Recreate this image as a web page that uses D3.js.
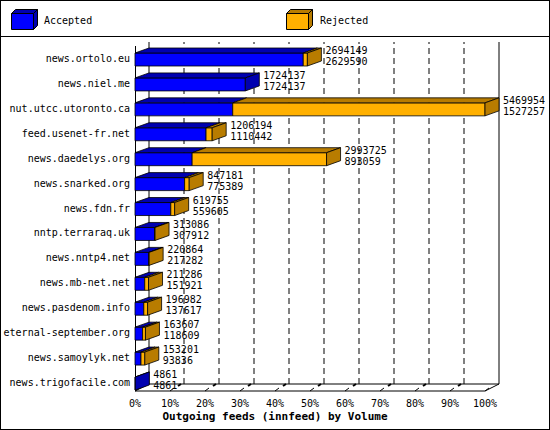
<!DOCTYPE html>
<html>
<head>
<meta charset="utf-8">
<style>
  body { margin: 0; background: #fff; }
  text { font-family: 'DejaVu Sans Mono', monospace; font-size: 10px; }
</style>
</head>
<body>
<svg width="550" height="430"></svg>
<script src="https://d3js.org/d3.v7.min.js"></script>
<script>
  let hosts = ["news.ortolo.eu", "news.niel.me", "nut.utcc.utoronto.ca", "feed.usenet-fr.net",
    "news.daedelys.org", "news.snarked.org", "news.fdn.fr", "nntp.terraraq.uk", "news.nntp4.net",
    "news.mb-net.net", "news.pasdenom.info", "eternal-september.org", "news.samoylyk.net", "news.trigofacile.com"]
  let offered = [2694149, 1724137, 5469954, 1206194, 2993725, 847181, 619755, 313086, 220864, 211286, 196982, 163607, 153201, 4861]
  let accepted = [2629590, 1724137, 1527257, 1110442, 893059, 775389, 559605, 307912, 217282, 151921, 137617, 118609, 93836, 4861]
  let ticks = [0, 10, 20, 30, 40, 50, 60, 70, 80, 90, 100]

  let svg = d3.select("svg")
  let dx = 14, dy = 7      // floor depth
  let bdx = 14, bdy = 5    // bar depth
  let floorY = 391, topY = 42

  // frame + legend strip
  svg.append("rect").attr("x", 0.5).attr("y", 0.5).attr("width", 549).attr("height", 429)
    .attr("fill", "none").attr("stroke", "#000")
  svg.append("line").attr("x1", 0).attr("x2", 550).attr("y1", 36.5).attr("y2", 36.5).attr("stroke", "#000")

  function box(x, y, front, dark) {
    let g = svg.append("g")
    g.append("path").attr("d", `M${x},${y + 4}h22v16h-22z`).attr("fill", front).attr("stroke", "#000")
    g.append("path").attr("d", `M${x},${y + 4}l4,-4h22l-4,4z`).attr("fill", dark).attr("stroke", "#000")
    g.append("path").attr("d", `M${x + 22},${y + 4}l4,-4v16l-4,4z`).attr("fill", dark).attr("stroke", "#000")
  }
  box(11.5, 9.5, "#0000ff", "#0000b0")
  svg.append("text").attr("x", 44).attr("y", 24).text("Accepted")
  box(286.5, 9.5, "#ffb000", "#b87c00")
  svg.append("text").attr("x", 320).attr("y", 24).text("Rejected")

  let x = d3.scaleLinear().domain([0, d3.max(offered)]).range([135, 485])
  let pct = d3.scaleLinear().domain([0, 100]).range([135, 485])
  let y = d3.scalePoint().domain(hosts).range([58, 382])

  // back wall grid
  ticks.forEach(t => {
    let bx = pct(t) + dx
    svg.append("line").attr("x1", bx).attr("x2", bx).attr("y1", floorY - dy).attr("y2", topY)
      .attr("stroke", "#000").attr("stroke-dasharray", (t === 0 || t === 100) ? null : "6,4")
  })
  // floor
  svg.append("path")
    .attr("d", `M${pct(0)},${floorY}L${pct(100)},${floorY}L${pct(100) + dx},${floorY - dy}L${pct(0) + dx},${floorY - dy}Z`)
    .attr("fill", "none").attr("stroke", "#000")
  ticks.forEach(t => {
    svg.append("line").attr("x1", pct(t)).attr("x2", pct(t) + 4).attr("y1", floorY).attr("y2", floorY - 3).attr("stroke", "#000")
    if (t > 0 && t < 100) svg.append("line").attr("x1", pct(t) + 8).attr("x2", pct(t) + 11)
      .attr("y1", floorY - 5).attr("y2", floorY - 7).attr("stroke", "#000").attr("stroke-width", 2)
    svg.append("text").attr("x", pct(t)).attr("y", floorY + 16).attr("text-anchor", "middle").text(t + "%")
  })
  svg.append("line").attr("x1", 135.5).attr("x2", 135.5).attr("y1", 46).attr("y2", floorY).attr("stroke", "#000")

  svg.append("text").attr("x", 275).attr("y", 420).attr("text-anchor", "middle")
    .attr("font-weight", "bold").style("font-size", "11px").text("Outgoing feeds (innfeed) by Volume")

  // bars
  hosts.forEach((h, i) => {
    let c = y(h), y0 = c - 5, hgt = 13
    let xa = x(accepted[i]), xo = x(offered[i]), x0 = x(0)
    let segs = [[x0, xa, "#0000ff", "#0000b0"], [xa, xo, "#ffb000", "#b87c00"]]
    segs.forEach(s => {
      if (s[1] - s[0] <= 0) return
      svg.append("path").attr("d", `M${s[0]},${y0}L${s[1]},${y0}L${s[1]},${y0 + hgt}L${s[0]},${y0 + hgt}Z`)
        .attr("fill", s[2]).attr("stroke", "#000").attr("stroke-width", 0.8)
      svg.append("path").attr("d", `M${s[0]},${y0}L${s[0] + bdx},${y0 - bdy}L${s[1] + bdx},${y0 - bdy}L${s[1]},${y0}Z`)
        .attr("fill", s[3]).attr("stroke", "#000").attr("stroke-width", 0.8)
    })
    let endDark = offered[i] > accepted[i] ? "#b87c00" : "#0000b0"
    svg.append("path").attr("d", `M${xo},${y0}L${xo + bdx},${y0 - bdy}L${xo + bdx},${y0 + hgt - bdy}L${xo},${y0 + hgt}Z`)
      .attr("fill", endDark).attr("stroke", "#000").attr("stroke-width", 0.8)
    svg.append("text").attr("x", xo + bdx + 4).attr("y", c - 4).text(offered[i])
    svg.append("text").attr("x", xo + bdx + 4).attr("y", c + 7).text(accepted[i])
    svg.append("text").attr("x", 130).attr("y", c + 4).attr("text-anchor", "end").text(h)
  })
</script>
</body>
</html>
